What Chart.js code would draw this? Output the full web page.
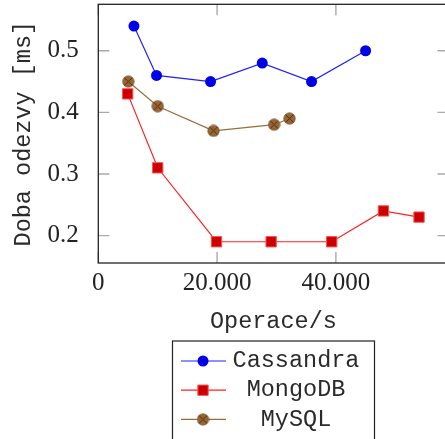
<!DOCTYPE html>
<html>
<head>
<meta charset="utf-8">
<script src="https://cdn.jsdelivr.net/npm/chart.js@4"></script>
<style>
html, body { margin: 0; padding: 0; background: #fff; overflow: hidden; }
canvas { display: block; }
</style>
</head>
<body>
<canvas id="chart" width="450" height="439"></canvas>
<script>
'use strict'

const seriesNames = ['Cassandra', 'MongoDB', 'MySQL']

const cassandraX = [6000, 9800, 18900, 27600, 35900, 45000]
const cassandraY = [0.54, 0.46, 0.45, 0.48, 0.45, 0.50]

const mongoX = [4950, 10000, 19900, 29100, 39300, 48000, 54000]
const mongoY = [0.43, 0.31, 0.19, 0.19, 0.19, 0.24, 0.23]

const mysqlX = [5050, 10000, 19400, 29600, 32200]
const mysqlY = [0.45, 0.41, 0.37, 0.38, 0.39]

const xTicks = [0, 20000, 40000]
const xTickLabels = ['0', '20.000', '40.000']
const yTicks = [0.2, 0.3, 0.4, 0.5]
const yTickLabels = ['0.2', '0.3', '0.4', '0.5']

const xTitle = 'Operace/s'
const yTitle = 'Doba odezvy [ms]'

function toPoints(xs, ys) {
	return xs.map((x, i) => ({ x, y: ys[i] }))
}

// circle with a cross, like the otimes* mark
function makeOtimes() {
	const c = document.createElement('canvas')
	c.width = 13
	c.height = 13
	const g = c.getContext('2d')
	const r = 5.6
	g.beginPath()
	g.arc(6.5, 6.5, r, 0, Math.PI * 2)
	g.fillStyle = '#996633'
	g.fill()
	g.lineWidth = 1
	g.strokeStyle = '#7a5128'
	g.stroke()
	const d = r * Math.SQRT1_2
	g.beginPath()
	g.moveTo(6.5 - d, 6.5 - d)
	g.lineTo(6.5 + d, 6.5 + d)
	g.moveTo(6.5 + d, 6.5 - d)
	g.lineTo(6.5 - d, 6.5 + d)
	g.strokeStyle = '#4a2f14'
	g.lineWidth = 1
	g.stroke()
	return c
}

// no automatic label margins, the plot box is fixed
function noPadding(s) {
	s.paddingTop = 0
	s.paddingBottom = 0
	s.paddingLeft = 0
	s.paddingRight = 0
}

const framePlugin = {
	id: 'frame',
	beforeDatasetsDraw(chart) {
		const { ctx, chartArea: a, scales } = chart
		ctx.save()
		ctx.strokeStyle = '#aaa'
		ctx.lineWidth = 1.4
		ctx.beginPath()
		scales.x.ticks.forEach(t => {
			const px = scales.x.getPixelForValue(t.value)
			ctx.moveTo(px, a.bottom)
			ctx.lineTo(px, a.bottom - 11)
			ctx.moveTo(px, a.top)
			ctx.lineTo(px, a.top + 11)
		})
		scales.y.ticks.forEach(t => {
			const py = scales.y.getPixelForValue(t.value)
			ctx.moveTo(a.left, py)
			ctx.lineTo(a.left + 11, py)
			ctx.moveTo(a.right, py)
			ctx.lineTo(a.right - 11, py)
		})
		ctx.stroke()
		ctx.strokeStyle = '#222'
		ctx.lineWidth = 1.3
		ctx.strokeRect(a.left, a.top, a.right - a.left, a.bottom - a.top)
		ctx.restore()
	},
}

const legendPlugin = {
	id: 'boxLegend',
	afterDraw(chart) {
		const ctx = chart.ctx
		const left = 172.5
		const top = 341
		const right = 374.5
		ctx.save()
		ctx.strokeStyle = '#222'
		ctx.lineWidth = 1.2
		ctx.strokeRect(left, top, right - left, 120)
		chart.data.datasets.forEach((ds, i) => {
			const y = 361 + i * 29.2
			ctx.strokeStyle = ds.borderColor
			ctx.lineWidth = ds.borderWidth
			ctx.beginPath()
			ctx.moveTo(181, y)
			ctx.lineTo(226, y)
			ctx.stroke()
			ctx.fillStyle = ds.pointBackgroundColor
			ctx.strokeStyle = ds.pointBorderColor
			ctx.lineWidth = ds.pointBorderWidth
			Chart.helpers.drawPoint(ctx, {
				pointStyle: ds.pointStyle,
				radius: ds.pointRadius,
				borderWidth: ds.pointBorderWidth,
				rotation: 0,
			}, 203, y)
			ctx.fillStyle = '#2a2a2a'
			ctx.font = '23.5px "Liberation Mono"'
			ctx.textAlign = 'center'
			ctx.textBaseline = 'middle'
			ctx.fillText(ds.label, 296, y)
		})
		ctx.restore()
	},
}

new Chart(document.getElementById('chart'), {
	type: 'line',
	data: {
		datasets: [
			{
				label: seriesNames[0],
				data: toPoints(cassandraX, cassandraY),
				borderColor: '#2020ff',
				borderWidth: 1.2,
				pointStyle: 'circle',
				pointRadius: 5.5,
				pointBackgroundColor: '#0000e6',
				pointBorderColor: '#0000e6',
				pointBorderWidth: 0,
			},
			{
				label: seriesNames[1],
				data: toPoints(mongoX, mongoY),
				borderColor: '#ff2020',
				borderWidth: 1.2,
				pointStyle: 'rect',
				pointRadius: 7.3,
				pointBackgroundColor: '#cc0000',
				pointBorderColor: '#ff5050',
				pointBorderWidth: 1,
			},
			{
				label: seriesNames[2],
				data: toPoints(mysqlX, mysqlY),
				borderColor: '#9b6b3b',
				borderWidth: 1.2,
				pointStyle: makeOtimes(),
				pointRadius: 6,
				pointBackgroundColor: '#996633',
				pointBorderColor: '#7a5128',
				pointBorderWidth: 1,
			},
		],
	},
	options: {
		responsive: false,
		animation: false,
		devicePixelRatio: 1,
		layout: {
			autoPadding: false,
			padding: { top: 4.3, right: 1.5, bottom: 96, left: 0 },
		},
		plugins: {
			legend: { display: false },
			tooltip: { enabled: false },
		},
		scales: {
			x: {
				type: 'linear',
				min: 0,
				max: 58960,
				afterBuildTicks: s => {
					s.ticks = xTicks.map(v => ({ value: v }))
				},
				afterFit: s => {
					s.height = 80
					noPadding(s)
				},
				grid: { display: false },
				border: { display: false },
				ticks: {
					callback: (v, i) => xTickLabels[i],
					font: { family: 'Liberation Serif', size: 25 },
					color: '#222',
					padding: -3,
					maxRotation: 0,
					autoSkip: false,
				},
				title: {
					display: true,
					text: xTitle,
					font: { family: 'Liberation Mono', size: 23.5 },
					color: '#2a2a2a',
					padding: { top: 0, bottom: 7 },
				},
			},
			y: {
				min: 0.1555,
				max: 0.5754,
				afterBuildTicks: s => {
					s.ticks = yTicks.map(v => ({ value: v }))
				},
				afterFit: s => {
					s.width = 98.3
					noPadding(s)
				},
				grid: { display: false },
				border: { display: false },
				ticks: {
					callback: (v, i) => yTickLabels[i],
					font: { family: 'Liberation Serif', size: 25 },
					color: '#222',
					padding: 11.5,
				},
				title: {
					display: true,
					text: yTitle,
					font: { family: 'Liberation Mono', size: 23.5 },
					color: '#2a2a2a',
					padding: { top: 10, bottom: 0 },
				},
			},
		},
	},
	plugins: [framePlugin, legendPlugin],
})
</script>
</body>
</html>
